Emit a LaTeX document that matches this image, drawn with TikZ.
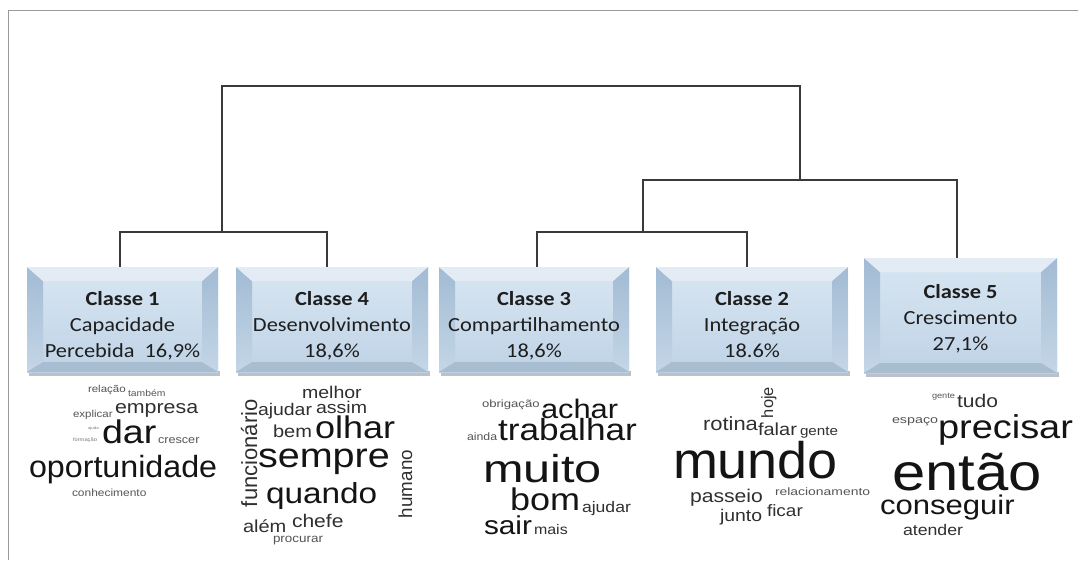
\documentclass[tikz,border=0pt]{standalone}
\usepackage{graphicx}
\usepackage{fontspec}
\setmainfont{Liberation Sans}
\newfontfamily\boxfont[FakeStretch=1.12]{Carlito}
\newfontfamily\cloudfont{Liberation Sans}
\usetikzlibrary{fit}
\definecolor{dline}{HTML}{3A3A3A}
\definecolor{frameC}{HTML}{9A9A9A}
\definecolor{faceT}{HTML}{D8E6F2}
\definecolor{faceB}{HTML}{BFD3E6}
\definecolor{sideT}{HTML}{A2BBD3}
\definecolor{sideB}{HTML}{C4D6E7}
\definecolor{topC}{HTML}{E3ECF5}
\definecolor{botC}{HTML}{A9BDD0}
\definecolor{shadowC}{HTML}{8C99A6}
\definecolor{boxtextC}{HTML}{1E1E1E}
\definecolor{cA}{HTML}{141414}
\definecolor{cB}{HTML}{303030}
\definecolor{cC}{HTML}{555555}
\definecolor{cD}{HTML}{787878}
\tikzset{
  dendro/.style={draw=dline, line width=1.5pt},
  wordnode/.style={anchor=base west, inner sep=0pt, outer sep=0pt},
  rotword/.style={anchor=base west, inner sep=0pt, outer sep=0pt, rotate=90},
  boxline/.style={anchor=base, inner sep=0pt, text=boxtextC, font=\boxfont\fontsize{20}{24}\selectfont},
  boxtitle/.style={boxline, font=\boxfont\bfseries\fontsize{20}{24}\selectfont},
}
\newcommand\bevelbox[5]{%
  \fill[shadowC, opacity=0.6] (#2+2,#5-1) rectangle (#4+2,#5+4);
  \shade[top color=faceT, bottom color=faceB] (#2,#3) rectangle (#4,#5);
  \shade[top color=sideT, bottom color=sideB] (#2,#3) -- (#2+16,#3+14) -- (#2+16,#5-10) -- (#2,#5) -- cycle;
  \shade[top color=sideT, bottom color=sideB] (#4,#3) -- (#4-16,#3+14) -- (#4-16,#5-10) -- (#4,#5) -- cycle;
  \fill[topC] (#2,#3) -- (#4,#3) -- (#4-16,#3+14) -- (#2+16,#3+14) -- cycle;
  \fill[botC] (#2,#5) -- (#4,#5) -- (#4-16,#5-10) -- (#2+16,#5-10) -- cycle;
  \node[fit={(#2,#3) (#4,#5)}, inner sep=0pt] (#1) {};
}
\newcommand\cw[7]{\node[wordnode, text=#6, font=\cloudfont\fontsize{#4}{#4}\selectfont] (#1) at (#2,#3) {\scalebox{#5}[1]{#7}};}
\newcommand\rw[6]{\node[rotword, text=#5, font=\cloudfont\fontsize{#4}{#4}\selectfont] (#1) at (#2,#3) {#6};}
\begin{document}
\begin{tikzpicture}[x=1pt,y=-1pt]
\useasboundingbox (0,0) rectangle (1078,560);
\fill[white] (0,0) rectangle (1078,560);
% frame
\coordinate (fTL) at (8,10);
\coordinate (fTR) at (1078,10);
\coordinate (fBL) at (8,560);
\draw[frameC, line width=1pt] (fBL) -- (fTL) -- (fTR);

% boxes
\bevelbox{b1}{27}{267}{218}{372}
\bevelbox{b4}{236}{267}{428}{372}
\bevelbox{b3}{439}{267}{629}{372}
\bevelbox{b2}{656}{267}{848}{372}
\bevelbox{b5}{864}{258}{1057}{373}

% box texts
\node[boxtitle] (t1a) at (122.5,305) {Classe 1};
\node[boxline]  (t1b) at (122.5,331) {Capacidade};
\node[boxline]  (t1c) at (122.5,357) {Percebida\hspace{0.5em}16,9\%};
\node[boxtitle] (t4a) at (332,305) {Classe 4};
\node[boxline]  (t4b) at (332,331) {Desenvolvimento};
\node[boxline]  (t4c) at (332,357) {18,6\%};
\node[boxtitle] (t3a) at (534,305) {Classe 3};
\node[boxline]  (t3b) at (534,331) {Compartilhamento};
\node[boxline]  (t3c) at (534,357) {18,6\%};
\node[boxtitle] (t2a) at (752,305) {Classe 2};
\node[boxline]  (t2b) at (752,331) {Integração};
\node[boxline]  (t2c) at (752,357) {18.6\%};
\node[boxtitle] (t5a) at (960.5,298) {Classe 5};
\node[boxline]  (t5b) at (960.5,324) {Crescimento};
\node[boxline]  (t5c) at (960.5,350) {27,1\%};

% dendrogram
\coordinate (j14) at (222,232);
\coordinate (j32) at (643,232);
\coordinate (j325) at (800,180);
\coordinate (r1) at (222,86);
\coordinate (r2) at (800,86);
\draw[dendro] ([xshift=-2.5pt]b1.north) |- (j14) -| ([xshift=-5pt]b4.north);
\draw[dendro] ([xshift=3pt]b3.north) |- (j32) -| ([xshift=-5pt]b2.north);
\draw[dendro] (j32) |- (j325) -| ([xshift=-3.5pt]b5.north);
\draw[dendro] (j14) -- (r1) -- (r2) -- (j325);

% cloud 1
\cw{w11}{88}{392}{10}{1.15}{cC}{relação}
\cw{w12}{128}{396}{9}{1.15}{cC}{também}
\cw{w13}{73}{417}{10}{1.15}{cC}{explicar}
\cw{w14}{115}{413}{18.6}{1.15}{cB}{empresa}
\cw{w15}{88}{429}{3.8}{1.15}{cD}{ajuda}
\cw{w16}{73}{441}{5}{1.15}{cD}{formação}
\cw{w17}{102}{443}{32.7}{1.15}{cA}{dar}
\cw{w18}{158}{443}{11}{1.15}{cC}{crescer}
\cw{w19}{29}{477}{30.7}{1.05}{cA}{oportunidade}
\cw{w110}{72}{496}{10.4}{1.15}{cC}{conhecimento}

% cloud 4
\cw{w41}{302}{398}{17}{1.15}{cB}{melhor}
\rw{w42}{257}{507}{22}{cB}{funcionário}
\cw{w43}{258}{415}{16.9}{1.15}{cB}{ajudar}
\cw{w44}{316}{413}{17}{1.15}{cB}{assim}
\cw{w45}{273}{437}{17.4}{1.15}{cB}{bem}
\cw{w46}{315}{438}{31.3}{1.15}{cA}{olhar}
\cw{w47}{258}{467}{34.4}{1.15}{cA}{sempre}
\rw{w48}{412}{518}{18.8}{cB}{humano}
\cw{w49}{266}{503}{29}{1.15}{cA}{quando}
\cw{w410}{243}{532}{17.4}{1.15}{cB}{além}
\cw{w411}{292}{527}{18.3}{1.15}{cB}{chefe}
\cw{w412}{273}{542}{11.7}{1.15}{cC}{procurar}

% cloud 3
\cw{w31}{482}{407}{10.5}{1.25}{cC}{obrigação}
\cw{w32}{541}{418}{26.8}{1.15}{cA}{achar}
\cw{w33}{467}{440}{10.7}{1.15}{cC}{ainda}
\cw{w34}{498}{440}{30.6}{1.15}{cA}{trabalhar}
\cw{w35}{483}{482}{38.9}{1.25}{cA}{muito}
\cw{w36}{510}{510}{31.3}{1.15}{cA}{bom}
\cw{w37}{582}{512}{15.3}{1.15}{cB}{ajudar}
\cw{w38}{484}{534}{25.9}{1.15}{cA}{sair}
\cw{w39}{534}{534}{13.9}{1.15}{cB}{mais}

% cloud 2
\rw{w21}{773}{418}{16.4}{cB}{hoje}
\cw{w22}{703}{430}{19.1}{1.15}{cB}{rotina}
\cw{w23}{758}{435}{17.4}{1.15}{cB}{falar}
\cw{w24}{800}{435}{13.2}{1.15}{cB}{gente}
\cw{w25}{673}{478}{51.4}{1.05}{cA}{mundo}
\cw{w26}{690}{502}{18.4}{1.15}{cB}{passeio}
\cw{w27}{775}{495}{10.7}{1.3}{cC}{relacionamento}
\cw{w28}{720}{521}{16.9}{1.15}{cB}{junto}
\cw{w29}{767}{516}{16.5}{1.15}{cB}{ficar}

% cloud 5
\cw{w51}{932}{398}{8}{1.15}{cC}{gente}
\cw{w52}{957}{407}{18.3}{1.15}{cB}{tudo}
\cw{w53}{892}{423}{11}{1.3}{cC}{espaço}
\cw{w54}{938}{438}{33}{1.15}{cA}{precisar}
\cw{w55}{892}{490}{52}{1.15}{cA}{então}
\cw{w56}{880}{514}{27}{1.15}{cA}{conseguir}
\cw{w57}{903}{535}{15.4}{1.15}{cB}{atender}
\end{tikzpicture}
\end{document}
